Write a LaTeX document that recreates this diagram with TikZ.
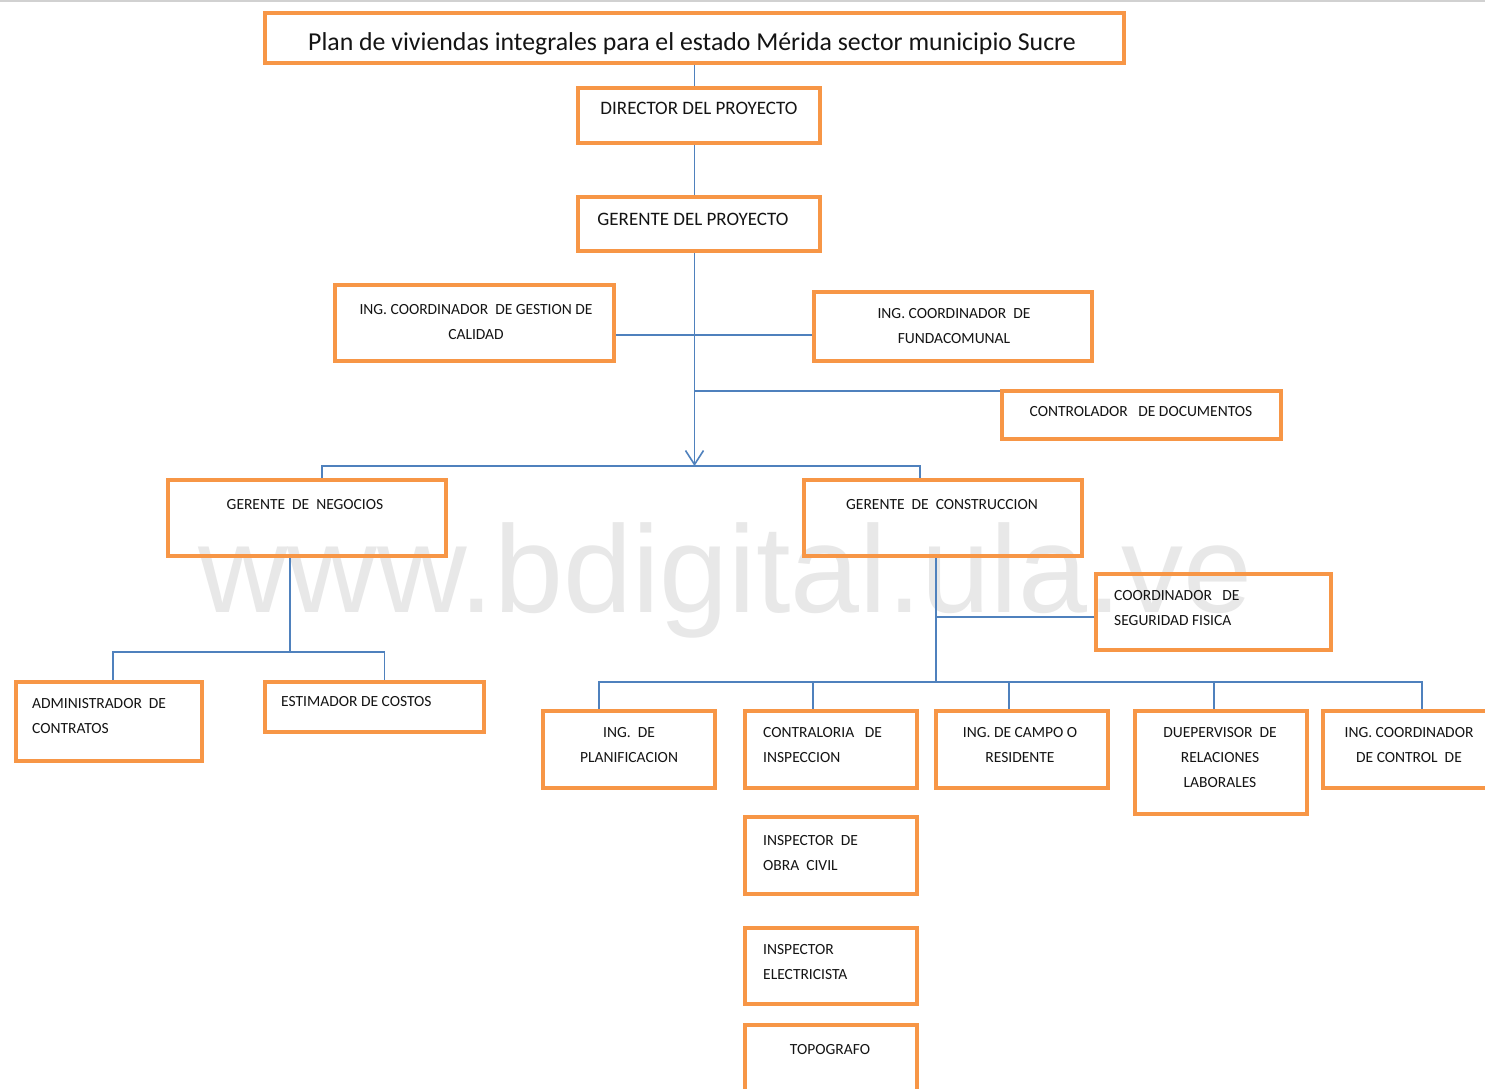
\documentclass[tikz,border=0pt]{standalone}
\usepackage{fontspec}
\setmainfont{Carlito}
\newfontfamily\wmfont{Liberation Sans}
\usetikzlibrary{fit,arrows.meta,calc}
\definecolor{boxorange}{HTML}{F79646}
\definecolor{linkblue}{HTML}{4F81BD}

\begin{document}
\begin{tikzpicture}[x=1pt,y=-1pt,
  obox/.style={draw=boxorange, line width=4.2pt, inner sep=0pt},
  link/.style={draw=linkblue, line width=1.6pt},
  lbl/.style={font=\fontsize{15.5}{25}\selectfont, inner sep=0pt, text=black!92},
  biglbl/.style={font=\fontsize{19}{25}\selectfont, inner sep=0pt, text=black!92},
]
\useasboundingbox (0,0) rectangle (1485,1089);
\fill[white] (0,0) rectangle (1485,1089);

% watermark
\node[font=\wmfont\fontsize{124}{124}\selectfont, text=black!9, anchor=base west, inner sep=0pt] (wm) at (198,612) {www.bdigital.ula.ve};
% thin rule along the top edge
\draw[black!18, line width=2pt] (0,1) -- (1485,1);

% boxes (corners on the stroke centre line)
\node[obox, fit={(265,13) (1124,63)}] (title) {};
\node[obox, fit={(578,88) (820,143)}] (dir) {};
\node[obox, fit={(578,197) (820,251)}] (gp) {};
\node[obox, fit={(335,285) (614,361)}] (gcal) {};
\node[obox, fit={(814,292) (1092,361)}] (fund) {};
\node[obox, fit={(1002,391) (1281,439)}] (ctrl) {};
\node[obox, fit={(168,480) (446,556)}] (gneg) {};
\node[obox, fit={(804,480) (1082,556)}] (gcon) {};
\node[obox, fit={(1096,574) (1331,650)}] (seg) {};
\node[obox, fit={(16,682) (202,761)}] (adm) {};
\node[obox, fit={(265,682) (484,732)}] (est) {};
\node[obox, fit={(543,711) (715,788)}] (plan) {};
\node[obox, fit={(745,711) (917,788)}] (contr) {};
\node[obox, fit={(936,711) (1108,788)}] (campo) {};
\node[obox, fit={(1135,711) (1307,814)}] (duep) {};
\node[obox, fit={(1323,711) (1500,788)}] (icc) {};
\node[obox, fit={(745,817) (917,894)}] (obra) {};
\node[obox, fit={(745,928) (917,1004)}] (elec) {};
\node[obox, fit={(745,1025) (917,1100)}] (topo) {};

% texts
\node[font=\fontsize{25.8}{30}\selectfont, inner sep=0pt, text=black!92, anchor=base] (ttitle) at (692,51) {Plan de viviendas integrales para el estado Mérida sector municipio Sucre};
\node[biglbl, anchor=base] (tdir) at (699,114) {DIRECTOR DEL PROYECTO};
\node[biglbl, anchor=base] (tgp) at (693,225) {GERENTE DEL PROYECTO};
\node[lbl, anchor=north, align=center] (tgcal) at (476,304) {ING. COORDINADOR\ \ DE GESTION DE\\CALIDAD};
\node[lbl, anchor=north, align=center] (tfund) at (954,308) {ING. COORDINADOR\ \ DE\\FUNDACOMUNAL};
\node[lbl, anchor=base] (tctrl) at (1141,416) {CONTROLADOR\ \ \ DE DOCUMENTOS};
\node[lbl, anchor=base] (tgneg) at (305,509) {GERENTE\ \ DE\ \ NEGOCIOS};
\node[lbl, anchor=base] (tgcon) at (942,509) {GERENTE\ \ DE\ \ CONSTRUCCION};
\node[lbl, anchor=north west, align=left] (tseg) at (1114,590) {COORDINADOR\ \ \ DE\\SEGURIDAD\ FISICA};
\node[lbl, anchor=north west, align=left] (tadm) at (32,698) {ADMINISTRADOR\ \ DE\\CONTRATOS};
\node[lbl, anchor=base west] (test) at (281,706) {ESTIMADOR DE COSTOS};
\node[lbl, anchor=north, align=center] (tplan) at (629,727) {ING.\ \ DE\\PLANIFICACION};
\node[lbl, anchor=north west, align=left] (tcontr) at (763,727) {CONTRALORIA\ \ \ DE\\INSPECCION};
\node[lbl, anchor=north, align=center] (tcampo) at (1020,727) {ING. DE CAMPO O\\RESIDENTE};
\node[lbl, anchor=north, align=center] (tduep) at (1220,727) {DUEPERVISOR\ \ DE\\RELACIONES\\LABORALES};
\node[lbl, anchor=north, align=center] (ticc) at (1409,727) {ING. COORDINADOR\\DE CONTROL\ \ DE};
\node[lbl, anchor=north west, align=left] (tobra) at (763,835) {INSPECTOR\ \ DE\\OBRA\ \ CIVIL};
\node[lbl, anchor=north west, align=left] (telec) at (763,944) {INSPECTOR\\ELECTRICISTA};
\node[lbl, anchor=base] (ttopo) at (830,1054) {TOPOGRAFO};

% junction points
\coordinate (hub) at (title.south |- 0,466);
\coordinate (hubA) at (title.south |- 0,335);
\coordinate (hubB) at (title.south |- 0,391);
\coordinate (negbus) at ([xshift=-17pt]gneg.south |- 0,652);
\coordinate (conbus) at ([xshift=-7pt]gcon.south |- 0,682);
\coordinate (segj) at ([xshift=-7pt]gcon.south |- 0,617);

% connectors
\draw[link] (title.south) -- (title.south |- dir.north);
\draw[link] (title.south |- dir.south) -- (title.south |- gp.north);
\draw[link, -{Straight Barb[length=14pt,width=18pt,line width=1.6pt]}] (title.south |- gp.south) -- (hub);
\draw[link] (gcal.east |- hubA) -- (fund.west |- hubA);
\draw[link] (hubB) -- (ctrl.west |- hubB);
\draw[link] ([xshift=15pt]gneg.north) |- (hub) -| ([xshift=-23pt]gcon.north);

\draw[link] ([xshift=-17pt]gneg.south) -- (negbus);
\draw[link] ([xshift=4pt]adm.north) |- (negbus) -| ([xshift=10pt]est.north);

\draw[link] ([xshift=-7pt]gcon.south) -- (conbus);
\draw[link] (segj) -- (seg.west |- segj);
\draw[link] ([xshift=-30pt]plan.north) |- (conbus) -| ([xshift=10.5pt]icc.north);
\draw[link] ([xshift=-18pt]contr.north) -- ([xshift=-18pt]contr.north |- conbus);
\draw[link] ([xshift=-13pt]campo.north) -- ([xshift=-13pt]campo.north |- conbus);
\draw[link] ([xshift=-7pt]duep.north) -- ([xshift=-7pt]duep.north |- conbus);
\end{tikzpicture}
\end{document}
